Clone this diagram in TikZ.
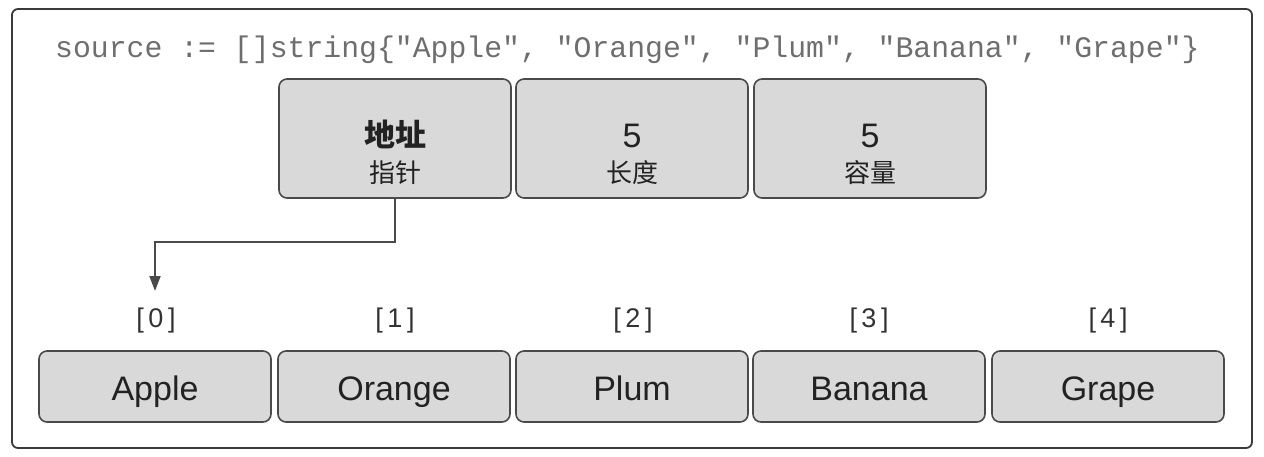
\documentclass[tikz,border=0pt]{standalone}
\usepackage{fontspec}
\setmainfont{Liberation Sans}
\newfontfamily\cjk{Noto Sans CJK SC}
\newfontfamily\codefont{Liberation Mono}
\usetikzlibrary{arrows.meta}
\definecolor{boxfill}{HTML}{D9D9D9}
\definecolor{boxline}{HTML}{4A4A4A}
\definecolor{txt}{HTML}{222222}
\definecolor{idxcol}{HTML}{333333}
\definecolor{codegray}{HTML}{6E6E6E}
\definecolor{framecol}{HTML}{3A3A3A}
\begin{document}
\begin{tikzpicture}[x=1pt,y=-1pt,
  cell/.style={draw=boxline, fill=boxfill, line width=1.6pt, rounded corners=8pt,
    minimum width=232pt, minimum height=71pt, inner sep=0pt,
    font=\fontsize{34}{36}\selectfont, text=txt, text height=27pt, text depth=0pt},
  hdrbox/.style={draw=boxline, fill=boxfill, line width=1.6pt, rounded corners=8pt,
    minimum width=232pt, minimum height=119pt, inner sep=0pt},
  bigtxt/.style={anchor=base, inner sep=0pt, text=txt, font=\fontsize{34}{36}\selectfont},
  bigcjk/.style={anchor=base, inner sep=0pt, text=txt, font=\cjk\bfseries\fontsize{31}{34}\selectfont},
  smallcjk/.style={anchor=base, inner sep=0pt, text=txt, font=\cjk\fontsize{26}{28}\selectfont},
  idx/.style={anchor=base, inner sep=0pt, text=idxcol, font=\fontsize{27}{30}\selectfont},
  arr/.style={draw=boxline, line width=1.8pt, -{Triangle[length=15pt,width=11pt]}}
  ]
\useasboundingbox (0,0) rectangle (1264,456);
\draw[framecol, line width=1.8pt, rounded corners=6pt] (12,9) rectangle (1252,448);

\node[anchor=base west, inner sep=0pt, text=codegray, font=\codefont\fontsize{29.8}{32}\selectfont]
  (code) at (55,57.5) {source := []string\{"Apple", "Orange", "Plum", "Banana", "Grape"\}};

% header boxes
\node[hdrbox] (h1) at (395,138.5) {};
\node[hdrbox] (h2) at (632,138.5) {};
\node[hdrbox] (h3) at (870,138.5) {};
\node[bigcjk] (h1a) at (395,146) {地址};
\node[smallcjk] (h1b) at (395,182) {指针};
\node[bigtxt] (h2a) at (632,147) {5};
\node[smallcjk] (h2b) at (632,182) {长度};
\node[bigtxt] (h3a) at (870,147) {5};
\node[smallcjk] (h3b) at (870,182) {容量};

% array cells
\node[cell] (c0) at (155,386.5) {Apple};
\node[cell] (c1) at (394,386.5) {Orange};
\node[cell] (c2) at (632,386.5) {Plum};
\node[cell] (c3) at (869,386.5) {Banana};
\node[cell] (c4) at (1108,386.5) {Grape};

% index labels
\node[idx] (i0) at (156,327) {[\,0\,]};
\node[idx] (i1) at (395,327) {[\,1\,]};
\node[idx] (i2) at (633,327) {[\,2\,]};
\node[idx] (i3) at (869,327) {[\,3\,]};
\node[idx] (i4) at (1108,327) {[\,4\,]};

% pointer arrow
\coordinate (bend) at (155,242);
\coordinate (tip) at (155,291);
\draw[arr] (h1.south) |- (bend) -- (tip);
\end{tikzpicture}
\end{document}
